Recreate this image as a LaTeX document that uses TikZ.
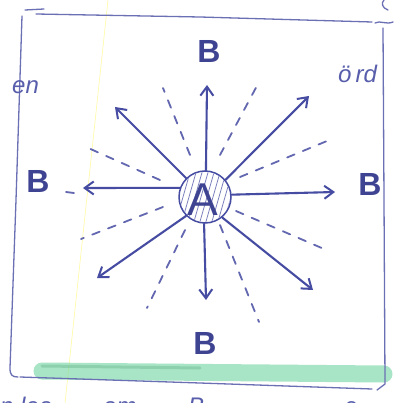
\documentclass[tikz,border=0pt]{standalone}
\usepackage{fontspec}
\setmainfont{Liberation Sans}
\usetikzlibrary{arrows.meta}
\definecolor{pen}{RGB}{70,76,162}
\definecolor{marker}{RGB}{110,212,160}
\tikzset{
  frameline/.style={draw=pen!80, line width=1.3pt, line cap=round, line join=round},
  ray/.style={draw=pen, line width=2.1pt, line cap=round, -{Straight Barb[length=9pt,width=13pt,line width=2pt]}},
  dray/.style={draw=pen!85, line width=1.8pt, line cap=round, dash pattern=on 8pt off 9pt},
  bigB/.style={text=pen!90!black, font=\bfseries\fontsize{32}{32}\selectfont, inner sep=0pt},
  scribble/.style={text=pen!90, font=\itshape\fontsize{24}{24}\selectfont, inner sep=0pt}
}
\begin{document}
\begin{tikzpicture}[x=1pt,y=-1pt]
\useasboundingbox (0,0) rectangle (395,403);
\clip (0,0) rectangle (395,403);
\fill[white] (0,0) rectangle (395,403);
% faint yellow line
\draw[yellow!70, line width=0.5pt, opacity=0.6] (108,0) -- (65,403);
% green marker stripe
\draw[marker, line width=17pt, opacity=0.6, line cap=round] (42,371) -- (384,374);
\draw[marker!80!black, line width=3pt, opacity=0.35, line cap=round] (42,366) -- (200,368);
% frame
\draw[frameline] (25,10) -- (44,9);
\draw[frameline] (36,14) -- (200,17) -- (372,22);
\draw[frameline] (375,23) .. controls (380,20) and (386,25) .. (393,22);
\draw[frameline] (22,16) -- (16,200) -- (10,368) .. controls (10,375) and (12,377) .. (18,377);
\draw[frameline] (20,377) -- (200,383) -- (372,389);
\draw[frameline] (383,28) -- (384,200) -- (385,384) -- (377,390);
\draw[frameline] (384,0) .. controls (381,3) and (382,8) .. (388,10);
% central circle
\node[circle, draw=pen, line width=1.5pt, minimum size=52pt, inner sep=0pt] (A) at (205,197) {};
\begin{scope}
  \clip (205,197) circle (25pt);
  \foreach \i in {-40,-34,...,40}{
    \draw[pen!70, line width=0.8pt] (205+\i-8,225) -- (205+\i+8,169);
  }
\end{scope}
\node[text=pen!90!black, font=\fontsize{46}{46}\selectfont, inner sep=0pt] (Alabel) at (203,200) {A};
% B labels
\node[bigB] (Btop) at (209,51) {B};
\node[bigB] (Bleft) at (38,181) {B};
\node[bigB] (Bright) at (370,184) {B};
\node[bigB] (Bbot) at (205,343) {B};
% arrow tips
\coordinate (tU) at (207,85);
\coordinate (tD) at (206,300);
\coordinate (tL) at (83,188);
\coordinate (tR) at (335,192);
\coordinate (tUL) at (115,107);
\coordinate (tUR) at (309,96);
\coordinate (tDL) at (97,278);
\coordinate (tDR) at (313,290);
\draw[ray] (A.88) -- (tU);
\draw[ray] (A.268) -- (tD);
\draw[ray] (A.160) -- (tL);
\draw[ray] (A.5) -- (tR);
\draw[ray] (A.135) -- (tUL);
\draw[ray] (A.40) -- (tUR);
\draw[ray] (A.225) -- (tDL);
\draw[ray] (A.310) -- (tDR);
% dashed rays
\coordinate (d1a) at (190,155); \coordinate (d1b) at (163,88);
\coordinate (d2a) at (220,155); \coordinate (d2b) at (259,82);
\coordinate (d3a) at (240,177); \coordinate (d3b) at (327,141);
\coordinate (d4a) at (160,180); \coordinate (d4b) at (86,147);
\coordinate (d5a) at (163,207); \coordinate (d5b) at (81,239);
\coordinate (d6a) at (185,230); \coordinate (d6b) at (147,308);
\coordinate (d7a) at (220,225); \coordinate (d7b) at (259,322);
\coordinate (d8a) at (236,211); \coordinate (d8b) at (324,249);
\coordinate (d9a) at (66,192); \coordinate (d9b) at (74,193);
\foreach \k in {1,...,8}{ \draw[dray] (d\k a) -- (d\k b); }
\draw[dray] (d9a) -- (d9b);
% scribbles at the edges
\node[scribble, anchor=base west] (en) at (12,94) {en};
\node[scribble, anchor=base west] (ord) at (338,83) {ö\,rd};
\node[scribble, anchor=base west] (bt1) at (0,414) {n lea};
\node[scribble, anchor=base west] (bt2) at (103,414) {am};
\node[scribble, anchor=base west] (bt3) at (188,414) {B};
\node[scribble, anchor=base west] (bt4) at (344,414) {e};
\end{tikzpicture}
\end{document}
